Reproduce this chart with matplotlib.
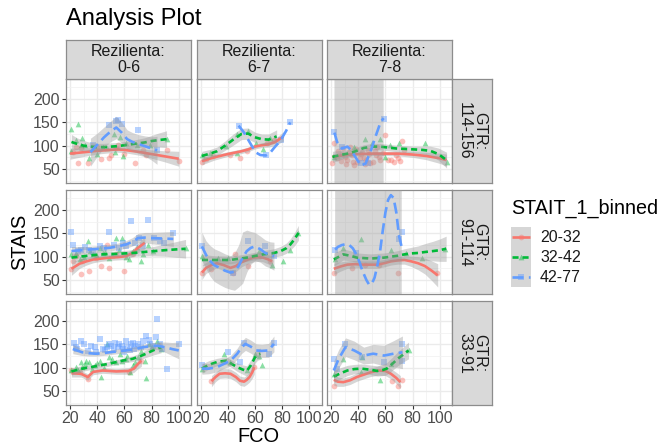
import numpy as np
import matplotlib.pyplot as plt
from matplotlib.patches import Rectangle

plt.rcParams['font.family'] = ['Liberation Sans', 'DejaVu Sans']

W, H = 662, 447

col_labels = ['Rezilienta:\n0-6', 'Rezilienta:\n6-7', 'Rezilienta:\n7-8']
row_labels = ['GTR:\n114-156', 'GTR:\n91-114', 'GTR:\n33-91']
groups = ['20-32', '32-42', '42-77']
colors = ['#F8766D', '#00BA38', '#619CFF']
markers = ['o', '^', 's']
dashes = [None, (2.3, 1.5), (4.2, 2.0)]

BIG = 1000  # band that runs off the panel (loess blow-up)

# each group: (points x, points y, smooth x, smooth y, band half width)
# row 1, GTR 114-156
r1c1_red = ([22, 24, 26, 28, 33, 40, 43, 49, 50, 54, 55, 60, 68, 74, 76, 91, 100],
            [87, 98, 62, 94, 62, 98, 71, 74, 81, 95, 101, 83, 62, 90, 81, 90, 67],
            [20, 30, 40, 50, 55, 60, 70, 80, 90, 100],
            [83, 86, 89, 91, 92, 91, 87, 82, 77, 72],
            [12, 9, 7, 6, 6, 6, 7, 9, 12, 16])
r1c1_green = ([21, 21, 24, 26, 28, 29, 31, 34, 40, 44, 47, 52, 53, 57, 59, 61, 69, 79, 91],
              [135, 88, 112, 147, 101, 117, 101, 73, 83, 98, 94, 124, 87, 119, 78, 105, 101, 101, 115],
              [21, 25, 30, 35, 40, 45, 50, 55, 60, 65, 70, 75, 80, 85, 91],
              [108, 104, 100, 98, 97, 97, 98, 99, 101, 103, 105, 107, 110, 112, 114],
              [16, 13, 11, 9, 8, 8, 8, 8, 8, 8, 9, 10, 12, 15, 18])
r1c1_blue = ([37, 49, 54, 55, 58, 70, 84],
             [101, 144, 152, 156, 147, 133, 90],
             [35, 40, 45, 50, 54, 58, 62, 66, 70, 75, 80, 84],
             [86, 102, 118, 131, 139, 128, 114, 108, 104, 99, 94, 90],
             [30, 25, 22, 22, 24, 22, 20, 20, 20, 22, 25, 30])

r1c2_red = ([21, 24, 29, 42, 49, 54, 69, 74],
            [64, 71, 78, 81, 74, 88, 106, 113],
            [21, 30, 40, 45, 50, 55, 60, 65, 70, 75, 81],
            [67, 75, 82, 85, 88, 92, 98, 101, 103, 108, 120],
            [8, 6, 5, 5, 5, 5, 5, 5, 6, 8, 10])
r1c2_green = ([21, 27, 39, 47, 47, 55, 61, 66, 71],
              [81, 85, 99, 124, 85, 131, 106, 92, 117],
              [21, 27, 32, 38, 44, 50, 55, 60, 65, 70, 76],
              [78, 83, 88, 100, 113, 125, 126, 118, 114, 113, 120],
              [10, 9, 9, 10, 12, 12, 12, 11, 11, 12, 14])
r1c2_blue = ([48, 68, 79, 86],
             [143, 79, 113, 151],
             [48, 52, 55, 58, 61, 64, 68, 71, 74, 77, 80, 83, 86],
             [143, 128, 113, 98, 85, 80, 79, 84, 95, 105, 117, 132, 150],
             [0] * 13)

r1c3_red = ([21, 22, 24, 28, 29, 31, 32, 34, 35.5, 37, 39, 42, 44, 45, 47, 49, 53, 54, 56, 60, 64, 69, 72.5, 74,
             25, 27, 30, 33, 36, 38, 41, 43, 46, 48, 51, 52, 55, 58, 62, 66, 68, 71],
            [62, 105, 73, 83, 94, 60, 69, 98, 80, 59, 66, 83, 73, 60, 90, 62, 80, 98, 69, 122, 69, 73, 110, 90,
             88, 68, 76, 86, 66, 92, 74, 86, 70, 82, 66, 88, 76, 84, 70, 66, 80, 68],
            [21, 30, 40, 50, 60, 70, 80, 90, 100, 105],
            [76, 80, 82, 83, 83, 83, 81, 78, 73, 69],
            [7, 5, 4, 4, 4, 5, 6, 8, 11, 13])
r1c3_green = ([22, 37, 45, 50, 56, 60, 63, 70, 89, 105],
              [76, 98, 115, 105, 115, 76, 101, 105, 105, 66],
              [21, 27, 32, 38, 44, 50, 56, 62, 68, 75, 81, 87, 93, 99, 105],
              [76, 80, 83, 88, 95, 98, 98, 96, 94, 93, 92, 91, 89, 82, 69],
              [12, 10, 8, 7, 7, 7, 7, 7, 7, 7, 7, 8, 10, 13, 17])
r1c3_blue = ([22, 28, 42, 47, 59],
             [130, 98, 62, 62, 158],
             [22.5, 24.4, 28, 32, 35, 37, 40, 42, 45.4, 49, 53, 56.5, 58.7],
             [128, 108, 94, 98, 90, 80, 66, 57, 62, 87, 122, 151, 159],
             [BIG] * 13)

# row 2, GTR 91-114
r2c1_red = ([21, 22, 24, 28, 29, 34, 39, 43, 47, 49, 54, 60, 66],
            [73, 91, 101, 62, 91, 69, 98, 80, 126, 76, 105, 69, 105],
            [21, 27, 32, 37, 43, 49, 55, 61, 66, 70, 75],
            [74, 85, 90, 94, 96, 98, 99, 101, 108, 119, 130],
            [14, 10, 8, 7, 6, 6, 6, 7, 8, 10, 13])
r2c1_green = ([21, 24, 33, 37, 42, 44, 49, 54, 58, 63, 66, 72, 77, 105,
               27, 30, 35, 40, 46, 51, 56, 61, 69, 74, 81],
              [105, 108, 133, 105, 119, 108, 98, 140, 140, 94, 112, 91, 126, 119,
               96, 100, 112, 102, 110, 104, 115, 100, 120, 105, 112],
              [21, 30, 42, 54, 66, 78, 90, 105],
              [98, 101, 105, 106, 108, 111, 114, 117],
              [10, 7, 6, 6, 7, 9, 13, 20])
r2c1_blue = ([21, 22, 28, 34, 42, 49, 61, 65, 74, 77, 89, 96,
              26, 31, 37, 45, 52, 56, 59, 68, 71, 82, 86],
             [152, 126, 115, 115, 122, 154, 122, 176, 122, 179, 130, 151,
              112, 120, 110, 118, 126, 118, 130, 130, 140, 140, 133],
             [21, 32, 42, 49, 55, 61, 66, 70, 75, 79, 88, 96],
             [112, 115, 117, 119, 122, 126, 132, 140, 141, 140, 139, 138],
             [10, 7, 7, 7, 7, 8, 9, 10, 11, 12, 14, 16])

r2c2_red = ([21, 28, 44, 45, 55, 64, 71],
            [66, 73, 66, 105, 81, 101, 91],
            [21, 24, 28, 32, 37, 42, 46, 50, 55, 59, 63, 66, 70, 72.5],
            [66, 76, 82, 86, 82, 76, 80, 88, 94, 98, 99, 98, 94, 90],
            [15, 12, 11, 10, 12, 13, 12, 10, 9, 9, 9, 9, 10, 12])
r2c2_green = ([21, 33, 40, 63, 72.5, 81, 86, 92],
              [101, 98, 98, 112, 83, 91, 115, 151],
              [21, 30, 42, 54, 66, 74, 79, 83, 86, 89, 92],
              [93, 93, 93, 98, 105, 108, 112, 118, 126, 137, 151],
              [12, 9, 8, 8, 8, 9, 10, 11, 12, 14, 16])
r2c2_blue = ([21, 44, 55, 67.6, 74],
             [122, 66, 133, 122, 101],
             [21, 24, 27, 30, 34, 38, 42, 45, 48, 51, 54, 57, 60, 64, 67.6, 71, 74],
             [122, 104, 91, 82, 76, 70, 66, 68, 80, 98, 112, 119, 122, 116, 108, 104, 101],
             [30, 30, 33, 35, 36, 36, 36, 40, 45, 55, 45, 35, 30, 28, 28, 28, 30])

r2c3_red = ([22, 35.5, 45, 55, 69, 98],
            [66, 76, 83, 83, 66, 66],
            [22, 27, 32, 38, 44, 49, 54, 59, 64, 69, 74, 79, 84, 89, 94, 98.5],
            [74, 79, 83, 84, 83, 83, 83, 86, 90, 92, 93, 90, 86, 80, 70, 60],
            [12, 10, 8, 8, 8, 8, 8, 8, 8, 8, 9, 11, 14, 17, 21, 25])
r2c3_green = ([23, 29, 42, 64, 75, 87, 104],
              [94, 119, 138, 115, 108, 98, 117],
              [22, 29, 34, 39, 44, 49, 54, 59, 64, 69, 74, 79, 84, 89, 95, 100, 104.7],
              [94, 105, 102, 98, 97, 96, 97, 98, 100, 102, 105, 107, 108, 110, 112, 114, 117],
              [14, 12, 11, 10, 10, 10, 10, 10, 10, 11, 12, 13, 15, 18, 21, 24, 27])
r2c3_blue = ([23, 38, 70, 72],
             [115, 108, 137, 154],
             [23, 25, 28, 31, 33, 36, 38, 41, 43, 46, 48, 50, 52, 54, 56, 58, 60, 62, 64, 66, 68, 70, 72],
             [115, 121, 125, 127, 126, 118, 108, 88, 70, 50, 40, 42, 55, 80, 110, 155, 195, 222, 232, 226, 195, 145, 120],
             [BIG] * 23)

# row 3, GTR 33-91
r3c1_red = ([21, 27, 33, 63, 72.5],
            [94, 90, 76, 90, 115],
            [21, 28, 33, 37, 44, 54, 63, 67, 70, 72.5],
            [88, 87, 80, 91, 94, 92, 93, 98, 108, 115],
            [8, 7, 7, 6, 6, 6, 7, 8, 10, 12])
r3c1_green = ([21, 24, 28, 29, 32, 34, 38, 42, 43, 47, 49, 54, 56.5, 61, 64, 66, 70, 75, 76, 80, 84, 87,
               26, 31, 36, 40, 45, 51, 58, 62, 68, 72, 78],
              [94, 101, 112, 101, 115, 112, 105, 115, 81, 151, 122, 112, 130, 119, 90, 105, 122, 115, 78, 144, 158, 140,
               95, 108, 98, 110, 100, 118, 115, 125, 112, 135, 150],
              [21, 29, 35, 42, 48, 54, 60, 66, 71, 76, 81, 87],
              [92, 98, 101, 105, 108, 112, 116, 119, 124, 130, 137, 144],
              [8, 6, 5, 5, 5, 5, 5, 6, 7, 8, 10, 12])
r3c1_blue = ([23, 24, 28, 35.5, 39, 42, 47, 49, 53, 55, 59, 61, 64, 66, 70, 76, 79, 84, 86, 91, 100,
              25, 30, 33, 38, 44, 46, 50, 52, 56, 58, 60, 62, 65, 67, 68, 72, 74, 78, 81, 83, 88],
             [154, 144, 158, 147, 133, 161, 144, 151, 154, 144, 140, 158, 137, 154, 151, 168, 151, 204, 151, 98, 151,
              140, 150, 135, 145, 140, 137, 147, 140, 150, 147, 133, 145, 150, 140, 147, 144, 158, 160, 147, 165, 140],
             [22, 29, 34, 39, 44, 49, 55, 61, 68, 74, 79, 84, 90, 95, 100],
             [140, 133, 131, 130, 131, 133, 135, 137, 140, 144, 146, 147, 144, 140, 137],
             [10, 7, 6, 5, 5, 5, 5, 5, 5, 6, 7, 8, 11, 14, 18])

r3c2_red = ([28, 59],
            [71, 101],
            [28, 31, 34, 38, 42, 46, 49, 52, 54, 56, 58, 59.5],
            [71, 80, 87, 88, 87, 80, 72, 70, 74, 80, 90, 101],
            [12, 10, 10, 10, 10, 10, 10, 10, 10, 11, 13, 15])
r3c2_green = ([21, 37, 42, 54, 60, 62.7, 65],
              [98, 130, 112, 94, 130, 126, 105],
              [21, 26, 32, 36, 39, 43, 47, 51, 54, 57, 60, 62, 64],
              [98, 106, 112, 114, 115, 108, 101, 96, 93, 105, 122, 128, 130],
              [10, 9, 8, 8, 8, 8, 9, 10, 11, 12, 12, 12, 12])
r3c2_blue = ([21, 40, 49, 51.6, 70, 74],
             [105, 133, 112, 154, 130, 152],
             [21, 26, 32, 37, 42, 47, 50, 53, 57, 61, 65, 70, 74],
             [98, 98, 101, 108, 115, 130, 143, 151, 145, 137, 136, 137, 151],
             [12, 11, 10, 10, 11, 12, 13, 14, 14, 14, 14, 15, 17])

r3c3_red = ([22, 65, 69, 72.5],
            [60, 71, 60, 74],
            [22, 25, 29, 34, 39, 44, 49, 55, 60, 64, 68, 71],
            [74, 70, 69, 73, 80, 85, 90, 94, 93, 87, 78, 69],
            [12, 10, 9, 9, 9, 9, 9, 10, 10, 11, 12, 14])
r3c3_green = ([22, 29, 42, 42.5, 56, 64, 77],
              [87, 119, 90, 122, 74, 108, 137],
              [22, 27, 32, 37, 42, 48, 54, 58, 61, 65, 69, 73, 77],
              [81, 88, 94, 97, 98, 96, 93, 95, 98, 108, 119, 128, 137],
              [14, 12, 11, 10, 10, 10, 11, 12, 13, 14, 15, 16, 18])
r3c3_blue = ([22, 24.4, 30.6, 43, 59, 72.5, 72.5],
             [119, 98, 151, 122, 112, 151, 115],
             [22, 25.6, 30.6, 37, 44, 51, 59, 66, 72.5],
             [94, 119, 144, 137, 126, 130, 126, 130, 133],
             [20, 20, 20, 20, 18, 20, 22, 28, 35])

panels = [[(r1c1_red, r1c1_green, r1c1_blue), (r1c2_red, r1c2_green, r1c2_blue), (r1c3_red, r1c3_green, r1c3_blue)],
          [(r2c1_red, r2c1_green, r2c1_blue), (r2c2_red, r2c2_green, r2c2_blue), (r2c3_red, r2c3_green, r2c3_blue)],
          [(r3c1_red, r3c1_green, r3c1_blue), (r3c2_red, r3c2_green, r3c2_blue), (r3c3_red, r3c3_green, r3c3_blue)]]


def box(x, y, w, h):
    # pixel box (top-left origin) -> figure fraction
    return [x / W, 1 - (y + h) / H, w / W, h / H]


fig = plt.figure(figsize=(W / 100, H / 100), dpi=100)

col_x = [66, 196.5, 327]
row_y = [79, 190, 301]
pw, ph = 125, 104
border = '#8C8C8C'

for i in range(3):
    for j in range(3):
        ax = fig.add_axes(box(col_x[j], row_y[i], pw, ph))
        ax.set_xlim(17, 109)
        ax.set_ylim(20, 243)
        ax.set_xticks([20, 40, 60, 80, 100])
        ax.set_xticks([30, 50, 70, 90], minor=True)
        ax.set_yticks([50, 100, 150, 200])
        ax.set_yticks([25, 75, 125, 175, 225], minor=True)
        ax.grid(which='major', color='#EBEBEB', lw=1.0)
        ax.grid(which='minor', color='#F2F2F2', lw=0.6)
        ax.set_axisbelow(True)
        for s in ax.spines.values():
            s.set_color(border)
            s.set_linewidth(0.9)
        ax.tick_params(which='minor', length=0)
        ax.tick_params(which='major', length=3, color='#333333', width=0.8,
                       labelsize=11.5, labelcolor='#4D4D4D', pad=1.5)
        if j > 0:
            ax.tick_params(axis='y', left=False, labelleft=False)
        if i < 2:
            ax.tick_params(axis='x', bottom=False, labelbottom=False)

        data = panels[i][j]
        for k, (px, py, lx, ly, se) in enumerate(data):
            ax.scatter(px, py, s=17, marker=markers[k], color=colors[k],
                       alpha=0.45, lw=0, zorder=2)
        for k, (px, py, lx, ly, se) in enumerate(data):
            ly = np.array(ly, float)
            se = np.array(se, float)
            if se.max() > 0:
                ax.fill_between(lx, ly - se, ly + se, color='#999999', alpha=0.4,
                                lw=0, zorder=3 + 2 * k)
            line, = ax.plot(lx, ly, color=colors[k], lw=1.9, zorder=4 + 2 * k,
                            solid_capstyle='butt', dash_capstyle='butt')
            if dashes[k]:
                line.set_dashes(dashes[k])

# column strips
for j in range(3):
    sx = fig.add_axes(box(col_x[j], 40, pw, 39))
    sx.set_facecolor('#D9D9D9')
    sx.set_xticks([]); sx.set_yticks([])
    for s in sx.spines.values():
        s.set_color(border); s.set_linewidth(0.9)
    sx.text(0.5, 0.5, col_labels[j], ha='center', va='center', fontsize=11.5,
            color='#1A1A1A', linespacing=1.0, transform=sx.transAxes)

# row strips
for i in range(3):
    sy = fig.add_axes(box(452, row_y[i], 40, ph))
    sy.set_facecolor('#D9D9D9')
    sy.set_xticks([]); sy.set_yticks([])
    for s in sy.spines.values():
        s.set_color(border); s.set_linewidth(0.9)
    sy.text(0.5, 0.5, row_labels[i], ha='center', va='center', fontsize=11.5,
            color='#1A1A1A', rotation=-90, linespacing=1.0, transform=sy.transAxes)

fig.text(66 / W, 1 - 25.5 / H, 'Analysis Plot', fontsize=17, va='baseline', ha='left')
fig.text(20 / W, 1 - 242 / H, 'STAIS', fontsize=14.4, rotation=90, ha='center', va='center')
fig.text(258 / W, 1 - 436 / H, 'FCO', fontsize=14.4, ha='center', va='center')

# legend
lax = fig.add_axes(box(505, 195, 150, 100))
lax.set_xlim(505, 655)
lax.set_ylim(295, 195)
lax.axis('off')
lax.text(511, 208, 'STAIT_1_binned', fontsize=14.2, ha='left', va='center')
for k, g in enumerate(groups):
    y0 = 227 + 20 * k
    lax.add_patch(Rectangle((511, y0), 20, 20, fc='#D6D6D6', ec='none'))
    line, = lax.plot([512, 530], [y0 + 10, y0 + 10], color=colors[k], lw=1.9,
                     solid_capstyle='butt', dash_capstyle='butt')
    if dashes[k]:
        line.set_dashes(dashes[k])
    lax.scatter([521], [y0 + 10], s=17, marker=markers[k], color=colors[k], alpha=0.45, lw=0)
    lax.text(540, y0 + 10.5, g, fontsize=11.5, ha='left', va='center', color='#1A1A1A')

fig.savefig('out.png', dpi=100)
